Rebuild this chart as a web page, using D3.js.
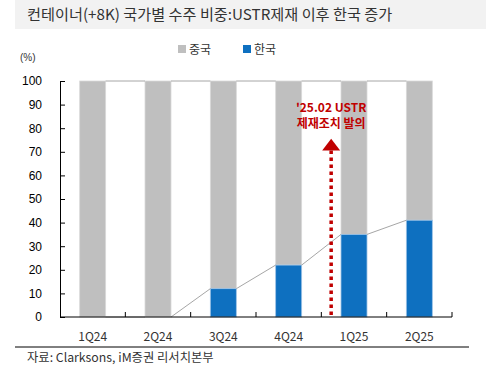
<!DOCTYPE html>
<html>
<head>
<meta charset="utf-8">
<script src="https://cdn.jsdelivr.net/npm/d3@7"></script>
<style>
  body { margin: 0; background: #fff; }
  svg { display: block; }
</style>
</head>
<body>
<div id="chart"></div>
<script>
// ---------- Data ----------
const quarters = ["1Q24", "2Q24", "3Q24", "4Q24", "1Q25", "2Q25"];
const korea = [0, 0, 12, 22, 35, 41];
const china = [100, 100, 88, 78, 65, 59];
const yTicks = [0, 10, 20, 30, 40, 50, 60, 70, 80, 90, 100];
const seriesNames = ["중국", "한국"];

const W = 486, H = 369;
const margin = { top: 81, right: 34, bottom: 52, left: 60 };
const width = W - margin.left - margin.right;
const height = H - margin.top - margin.bottom;

const krFont = "'Noto Sans CJK KR', 'Noto Sans', sans-serif";
const numFont = "'Liberation Sans', Arial, sans-serif";

const svg = d3.select("#chart").append("svg")
  .attr("width", W).attr("height", H);

// ---------- Title ----------
svg.append("rect").attr("x", 15).attr("y", 0).attr("width", W - 15).attr("height", 29)
  .attr("fill", "#f2f2f2");
svg.append("text").attr("x", 27).attr("y", 20)
  .attr("font-family", krFont).attr("font-size", 15.2).attr("fill", "#333")
  .text("컨테이너(+8K) 국가별 수주 비중:USTR제재 이후 한국 증가");

// ---------- Legend ----------
const colors = { "중국": "#bfbfbf", "한국": "#0e70c0" };
const legendX = [178, 243];
seriesNames.forEach((n, i) => {
  svg.append("rect").attr("x", legendX[i]).attr("y", 45).attr("width", 8).attr("height", 8)
    .attr("fill", colors[n]);
  svg.append("text").attr("x", legendX[i] + 11).attr("y", 54)
    .attr("font-family", krFont).attr("font-size", 12).attr("fill", "#333")
    .text(n);
});

svg.append("text").attr("x", 20).attr("y", 61)
  .attr("font-family", numFont).attr("font-size", 10).attr("fill", "#333")
  .text("(%)");

const g = svg.append("g").attr("transform", `translate(${margin.left},${margin.top})`);

// ---------- Scales ----------
const x = d3.scaleBand().domain(quarters).range([0, width]).paddingInner(0).paddingOuter(0);
const barW = 26;
const barX = q => x(q) + (x.bandwidth() - barW) / 2;
const y = d3.scaleLinear().domain([0, 100]).range([height, 0]);

// ---------- Bars ----------
const rows = quarters.map((q, i) => ({ q, kr: korea[i], cn: china[i] }));

g.selectAll("rect.cn").data(rows).enter().append("rect")
  .attr("class", "cn")
  .attr("x", d => barX(d.q)).attr("width", barW)
  .attr("y", d => y(d.kr + d.cn)).attr("height", d => y(d.kr) - y(d.kr + d.cn))
  .attr("fill", colors["중국"]).attr("stroke", "#d9d9d9").attr("stroke-width", 0.8);

g.selectAll("rect.kr").data(rows.filter(d => d.kr > 0)).enter().append("rect")
  .attr("class", "kr")
  .attr("x", d => barX(d.q)).attr("width", barW)
  .attr("y", d => y(d.kr)).attr("height", d => y(0) - y(d.kr))
  .attr("fill", colors["한국"]).attr("stroke", "#9dc3e6").attr("stroke-width", 0.8);

// ---------- Connector lines ----------
function connectors(vals) {
  for (let i = 0; i < quarters.length - 1; i++) {
    g.append("line")
      .attr("x1", barX(quarters[i]) + barW).attr("y1", y(vals[i]))
      .attr("x2", barX(quarters[i + 1])).attr("y2", y(vals[i + 1]))
      .attr("stroke", "#a6a6a6").attr("stroke-width", 1);
  }
}
connectors(korea);
connectors(rows.map(d => d.kr + d.cn));

// ---------- Axes ----------
const yAxis = g.append("g")
  .call(d3.axisLeft(y).tickValues(yTicks).tickSize(-5).tickSizeOuter(0).tickPadding(18));
yAxis.select(".domain").attr("stroke", "#000");
yAxis.selectAll(".tick line").attr("stroke", "#000");
yAxis.selectAll("text").attr("font-family", numFont).attr("font-size", 12).attr("fill", "#000");

const bounds = quarters.map(q => x(q) + x.bandwidth());
const xAxis = g.append("g").attr("transform", `translate(0,${height})`);
xAxis.append("line").attr("x1", 0).attr("x2", width).attr("stroke", "#000");
xAxis.selectAll("line.t").data(bounds).enter().append("line").attr("class", "t")
  .attr("x1", d => d).attr("x2", d => d).attr("y1", 0).attr("y2", -5).attr("stroke", "#000");
xAxis.selectAll("text").data(quarters).enter().append("text")
  .attr("x", d => x(d) + x.bandwidth() / 2).attr("y", 24)
  .attr("text-anchor", "middle")
  .attr("font-family", krFont).attr("font-size", 12).attr("fill", "#333")
  .text(d => d);

// ---------- Annotation ----------
const ax = x("1Q25") + (x.bandwidth() - barW) / 4;
const red = "#c00000";
g.append("line")
  .attr("x1", ax).attr("x2", ax).attr("y1", y(0) - 2).attr("y2", y(73))
  .attr("stroke", red).attr("stroke-width", 3.5).attr("stroke-dasharray", "3.5,3.5");
g.append("path")
  .attr("d", `M${ax - 9},${y(70.5)} L${ax + 9},${y(70.5)} L${ax},${y(75.5)} Z`)
  .attr("fill", red);
const ann = g.append("text").attr("text-anchor", "middle")
  .attr("font-family", krFont).attr("font-size", 12).attr("font-weight", 600).attr("fill", red);
ann.append("tspan").attr("x", ax).attr("y", y(87)).text("'25.02 USTR");
ann.append("tspan").attr("x", ax).attr("y", y(80)).text("제재조치 발의");

// ---------- Footer ----------
svg.append("line").attr("x1", 15).attr("x2", 469).attr("y1", 347).attr("y2", 347)
  .attr("stroke", "#000").attr("stroke-width", 1);
svg.append("text").attr("x", 27).attr("y", 362)
  .attr("font-family", krFont).attr("font-size", 12.3).attr("fill", "#333")
  .text("자료: Clarksons, iM증권 리서치본부");
</script>
</body>
</html>
